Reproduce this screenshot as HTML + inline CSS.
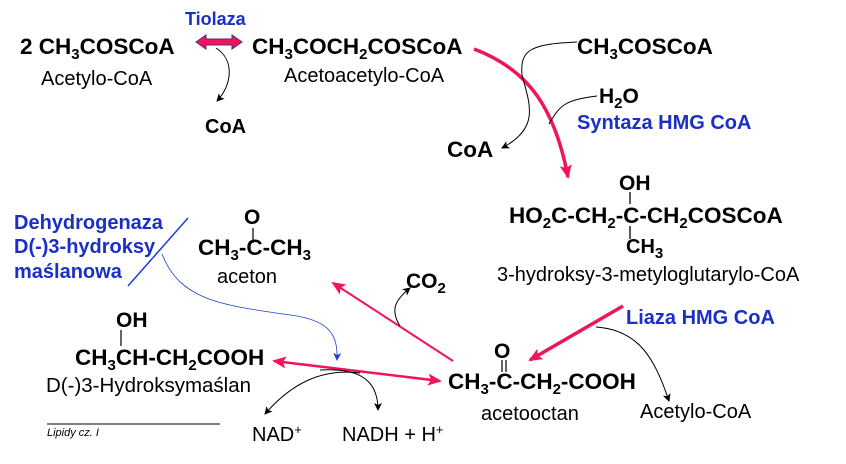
<!DOCTYPE html>
<html><head><meta charset="utf-8"><style>
body{margin:0;background:#fff;}
svg{display:block;font-family:"Liberation Sans",Arial,sans-serif;}
.b{font-weight:bold;font-size:22.5px;fill:#000}
.r{font-size:20px;fill:#000}
.e{font-weight:bold;font-size:20px;fill:#1a2fc8}
.s{font-size:15px}
</style></head><body>
<svg width="846" height="464" viewBox="0 0 846 464">
<defs>
<marker id="ak" markerWidth="8" markerHeight="8" refX="7" refY="4" orient="auto" markerUnits="userSpaceOnUse"><path d="M0,0 L8,4 L0,8 L2,4z" fill="#000"/></marker>
<marker id="ab" markerWidth="8" markerHeight="8" refX="7" refY="4" orient="auto" markerUnits="userSpaceOnUse"><path d="M0,0 L8,4 L0,8 L2,4z" fill="#1a3fd0"/></marker>
<marker id="ap" markerWidth="14" markerHeight="12" refX="12" refY="6" orient="auto" markerUnits="userSpaceOnUse"><path d="M0,0 L14,6 L0,12 L3,6z" fill="#f0145a"/></marker>
<marker id="aps" markerWidth="14" markerHeight="12" refX="2" refY="6" orient="auto" markerUnits="userSpaceOnUse"><path d="M14,0 L0,6 L14,12 L11,6z" fill="#f0145a"/></marker>
</defs>

<text x="185" y="25" class="e" style="font-size:18px">Tiolaza</text>
<text x="20" y="54" class="b">2 CH<tspan class="s" dy="5">3</tspan><tspan dy="-5">COSCoA</tspan></text>
<text x="41" y="85" class="r">Acetylo-CoA</text>
<path d="M196,42 L206,35 L206,39 L232,39 L232,35 L242,42 L232,49 L232,45 L206,45 L206,49z" fill="#f0145a" stroke="#5a2a80" stroke-width="1"/>
<text x="252" y="54" class="b">CH<tspan class="s" dy="5">3</tspan><tspan dy="-5">COCH</tspan><tspan class="s" dy="5">2</tspan><tspan dy="-5">COSCoA</tspan></text>
<text x="284" y="82" class="r">Acetoacetylo-CoA</text>
<path d="M216,48 C235,60 232,85 217,101" fill="none" stroke="#000" stroke-width="1" marker-end="url(#ak)"/>
<text x="205" y="133" class="b" style="font-size:20px">CoA</text>

<path d="M474,49 C530,70 555,110 568,177" fill="none" stroke="#f0145a" stroke-width="3.5" marker-end="url(#ap)"/>
<text x="577" y="54" class="b">CH<tspan class="s" dy="5">3</tspan><tspan dy="-5">COSCoA</tspan></text>
<path d="M577,42 C530,44 520,50 522,75 C530,105 540,128 502,148" fill="none" stroke="#000" stroke-width="1" marker-end="url(#ak)"/>
<text x="447" y="157" class="b">CoA</text>
<text x="599" y="103" class="b" style="font-size:21px">H<tspan class="s" dy="5">2</tspan><tspan dy="-5">O</tspan></text>
<path d="M597,96 C565,100 560,105 549,124" fill="none" stroke="#000" stroke-width="1"/>
<text x="577" y="129" class="e">Syntaza HMG CoA</text>

<text x="619" y="190" class="b" style="font-size:21px">OH</text>
<line x1="630" y1="192" x2="630" y2="204" stroke="#000" stroke-width="1.3"/>
<text x="509" y="223" class="b">HO<tspan class="s" dy="5">2</tspan><tspan dy="-5">C-CH</tspan><tspan class="s" dy="5">2</tspan><tspan dy="-5">-C-CH</tspan><tspan class="s" dy="5">2</tspan><tspan dy="-5">COSCoA</tspan></text>
<line x1="630" y1="226" x2="630" y2="239" stroke="#000" stroke-width="1.3"/>
<text x="626" y="253" class="b" style="font-size:20px">CH<tspan class="s" dy="5">3</tspan></text>
<text x="497" y="281" class="r">3-hydroksy-3-metyloglutarylo-CoA</text>

<text x="626" y="324" class="e">Liaza HMG CoA</text>
<path d="M623,306 L530,360" fill="none" stroke="#f0145a" stroke-width="3.5" marker-end="url(#ap)"/>
<path d="M596,327 C640,330 655,360 669,401" fill="none" stroke="#000" stroke-width="1" marker-end="url(#ak)"/>
<text x="640" y="418" class="r">Acetylo-CoA</text>

<text x="494" y="358" class="b" style="font-size:21px">O</text>
<line x1="502" y1="360" x2="502" y2="372" stroke="#000" stroke-width="1.2"/>
<line x1="506" y1="360" x2="506" y2="372" stroke="#000" stroke-width="1.2"/>
<text x="448" y="389" class="b">CH<tspan class="s" dy="5">3</tspan><tspan dy="-5">-C-CH</tspan><tspan class="s" dy="5">2</tspan><tspan dy="-5">-COOH</tspan></text>
<text x="481" y="420" class="r">acetooctan</text>

<path d="M453,361 L333,283" fill="none" stroke="#f0145a" stroke-width="2" marker-end="url(#ap)"/>
<path d="M400,326 C390,310 395,300 410,288" fill="none" stroke="#000" stroke-width="1" marker-end="url(#ak)"/>
<text x="406" y="288" class="b" style="font-size:21px">CO<tspan class="s" dy="5">2</tspan></text>

<text x="244" y="224" class="b" style="font-size:21px">O</text>
<line x1="253" y1="228" x2="253" y2="243" stroke="#000" stroke-width="1.2"/>
<text x="198" y="255" class="b">CH<tspan class="s" dy="5">3</tspan><tspan dy="-5">-C-CH</tspan><tspan class="s" dy="5">3</tspan></text>
<text x="217" y="283" class="r">aceton</text>

<text x="14" y="229" class="e">Dehydrogenaza</text>
<text x="14" y="253" class="e">D(-)3-hydroksy</text>
<text x="14" y="278" class="e">maślanowa</text>
<line x1="188" y1="218" x2="128" y2="286" stroke="#1a3fd0" stroke-width="1.5"/>
<path d="M162,254 C180,300 220,305 290,315 C330,320 338,335 337,360" fill="none" stroke="#1a3fd0" stroke-width="0.8" marker-end="url(#ab)"/>

<text x="116" y="327" class="b" style="font-size:21px">OH</text>
<line x1="121" y1="330" x2="121" y2="346" stroke="#000" stroke-width="1.2"/>
<text x="75" y="365" class="b">CH<tspan class="s" dy="5">3</tspan><tspan dy="-5">CH-CH</tspan><tspan class="s" dy="5">2</tspan><tspan dy="-5">COOH</tspan></text>
<text x="46" y="392" class="r" style="font-size:20.5px">D(-)3-Hydroksymaślan</text>
<path d="M274,361 L440,381" fill="none" stroke="#f0145a" stroke-width="2.5" marker-start="url(#aps)" marker-end="url(#ap)"/>
<path d="M360,373 C320,368 290,385 265,414" fill="none" stroke="#000" stroke-width="1" marker-end="url(#ak)"/>
<path d="M320,370 C360,368 378,380 378,410" fill="none" stroke="#000" stroke-width="1" marker-end="url(#ak)"/>
<text x="252" y="441" class="r">NAD<tspan style="font-size:13px" dy="-7">+</tspan></text>
<text x="342" y="441" class="r">NADH + H<tspan style="font-size:13px" dy="-7">+</tspan></text>

<line x1="47" y1="424" x2="220" y2="424" stroke="#000" stroke-width="1"/>
<text x="47" y="436" style="font-size:11px;font-style:italic">Lipidy cz. I</text>
</svg>
</body></html>
